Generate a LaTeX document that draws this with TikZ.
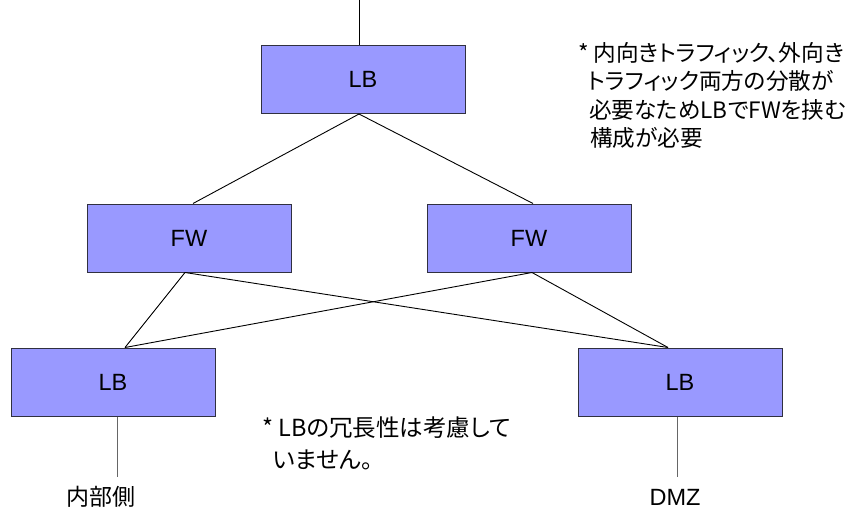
\documentclass[tikz,border=0pt]{standalone}
\usepackage{fontspec}
\setmainfont{Liberation Sans}
\newfontfamily\jp{Noto Sans CJK JP}
\newfontfamily\jpp[RawFeature={+palt}]{Noto Sans CJK JP}
\definecolor{boxfill}{HTML}{9999FF}
\definecolor{boxline}{HTML}{303040}
\begin{document}
\begin{tikzpicture}[x=1pt,y=-1pt,
  devbox/.style={draw=boxline,fill=boxfill,line width=1pt,minimum width=204pt,minimum height=68pt,inner sep=0pt,font=\fontsize{23.5}{27}\selectfont},
  link/.style={draw=black,line width=0.9pt},
  drop/.style={draw=black!60,line width=1pt},
  notetext/.style={inner sep=0pt,align=left,anchor=north west}]
\useasboundingbox (0,0) rectangle (859,509);
\node[devbox] (lbtop) at (363,79.5) {LB};
\node[devbox] (fwl) at (189,238) {FW};
\node[devbox] (fwr) at (529,238) {FW};
\node[devbox] (lbl) at (113,382) {LB};
\node[devbox] (lbr) at (680,382) {LB};
\coordinate (topin) at (359,0);
\draw[link] (topin) -- (topin |- lbtop.north);
\draw[link] ([xshift=-4pt]lbtop.south) -- ([xshift=4pt]fwl.north);
\draw[link] ([xshift=-4pt]lbtop.south) -- ([xshift=4pt]fwr.north);
\draw[link] ([xshift=-4pt]fwl.south) -- ([xshift=12pt]lbl.north);
\draw[link] ([xshift=-4pt]fwl.south) -- ([xshift=-12pt]lbr.north);
\draw[link] ([xshift=3pt]fwr.south) -- ([xshift=12pt]lbl.north);
\draw[link] ([xshift=3pt]fwr.south) -- ([xshift=-12pt]lbr.north);
\node[inner sep=0pt,font=\jp\fontsize{23}{27}\selectfont] (inner) at (101,497) {内部側};
\node[inner sep=0pt,font=\fontsize{23.5}{27}\selectfont] (dmz) at (675,497) {DMZ};
\draw[drop] ([xshift=4pt]lbl.south) -- ++(0,60) coordinate (innerend);
\draw[drop] ([xshift=-3pt]lbr.south) -- ++(0,60) coordinate (dmzend);
\node[notetext,font=\jpp\fontsize{22.6}{28.5}\selectfont] (note1) at (578,42)
  {* 内向きトラフィック、外向き\\\hspace*{10pt}トラフィック両方の分散が\\\hspace*{11pt}必要なためLBでFWを挟む\\\hspace*{12pt}構成が必要};
\node[notetext,font=\jpp\fontsize{23.5}{32}\selectfont] (note2) at (262,417)
  {* LBの冗長性は考慮して\\\hspace*{11pt}いません。};
\end{tikzpicture}
\end{document}
